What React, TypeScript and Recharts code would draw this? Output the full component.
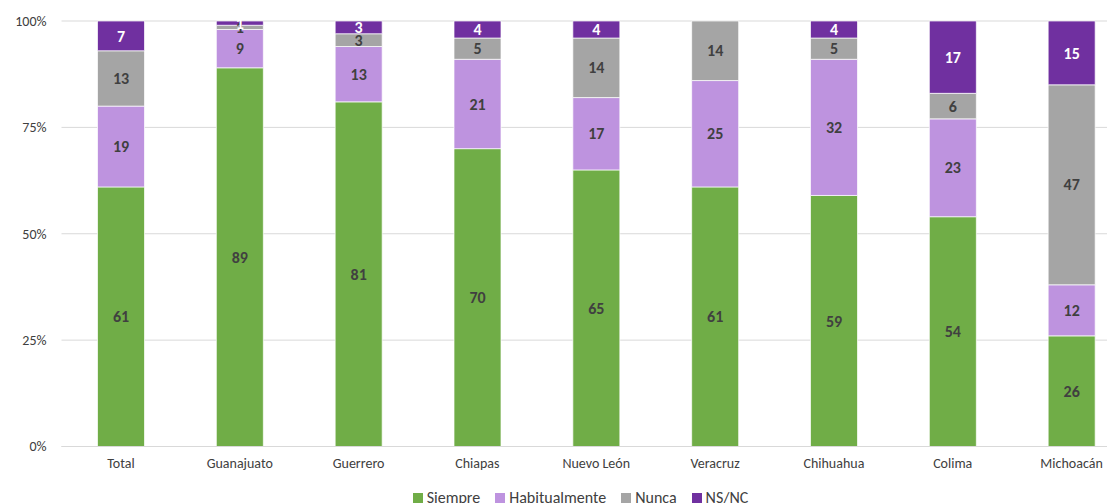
import { BarChart, Bar, XAxis, YAxis, CartesianGrid, Legend, LabelList } from 'recharts'

const estados = ['Total', 'Guanajuato', 'Guerrero', 'Chiapas', 'Nuevo León', 'Veracruz', 'Chihuahua', 'Colima', 'Michoacán']
const siempre = [61, 89, 81, 70, 65, 61, 59, 54, 26]
const habitualmente = [19, 9, 13, 21, 17, 25, 32, 23, 12]
const nunca = [13, 1, 3, 5, 14, 14, 5, 6, 47]
const nsnc = [7, 1, 3, 4, 4, 0, 4, 17, 15]
const yTicks = [0, 25, 50, 75, 100]

const data = estados.map((estado, i) => ({
  estado,
  Siempre: siempre[i],
  Habitualmente: habitualmente[i],
  Nunca: nunca[i],
  'NS/NC': nsnc[i],
}))

const series = [
  { key: 'Siempre', color: '#70AD47', text: '#404040' },
  { key: 'Habitualmente', color: '#BE93DF', text: '#404040' },
  { key: 'Nunca', color: '#A5A5A5', text: '#404040' },
  { key: 'NS/NC', color: '#7030A0', text: '#FFFFFF' },
]

const font = 'Calibri, Carlito, "Open Sans", sans-serif'

const hideZero = (v: any) => (v === 0 ? '' : v)

// legend keeps the series order instead of recharts' alphabetical sort
const renderLegend = () => (
  <div style={{ display: 'flex', justifyContent: 'center', gap: 15, paddingLeft: 22, fontSize: 16, color: '#404040', lineHeight: '20px' }}>
    {series.map((s) => (
      <span key={s.key} style={{ display: 'flex', alignItems: 'center' }}>
        <span style={{ display: 'inline-block', width: 10, height: 10, background: s.color, marginRight: 4 }} />
        {s.key}
      </span>
    ))}
  </div>
)

const App = () => {
  return (
    <div style={{ width: 1107, height: 495, overflow: 'hidden', fontFamily: font }}>
      <BarChart
        width={1123}
        height={500}
        data={data}
        margin={{ top: 13, right: 0, bottom: 0, left: 0 }}
        barSize={47}
      >
        <CartesianGrid vertical={false} stroke="#D9D9D9" />
        <XAxis
          dataKey="estado"
          height={41.5}
          tickLine={false}
          axisLine={{ stroke: '#D9D9D9' }}
          tickMargin={6}
          tick={{ fill: '#404040', fontSize: 14, fontFamily: font }}
          interval={0}
        />
        <YAxis
          width={53.5}
          domain={[0, 100]}
          ticks={yTicks}
          tickFormatter={(v: number) => `${v}%`}
          axisLine={false}
          tickLine={false}
          tickMargin={9}
          tick={{ fill: '#404040', fontSize: 14, fontFamily: font }}
        />
        <Legend verticalAlign="bottom" content={renderLegend} wrapperStyle={{ fontFamily: font }} />
        {series.map((s) => (
          <Bar
            key={s.key}
            dataKey={s.key}
            stackId="a"
            fill={s.color}
            stroke="#FFFFFF"
            strokeWidth={0.7}
            isAnimationActive={false}
          >
            <LabelList
              dataKey={s.key}
              position="center"
              formatter={hideZero}
              style={{ fill: s.text, fontSize: 16, fontWeight: 700, fontFamily: font }}
            />
          </Bar>
        ))}
      </BarChart>
    </div>
  )
}

export default App
